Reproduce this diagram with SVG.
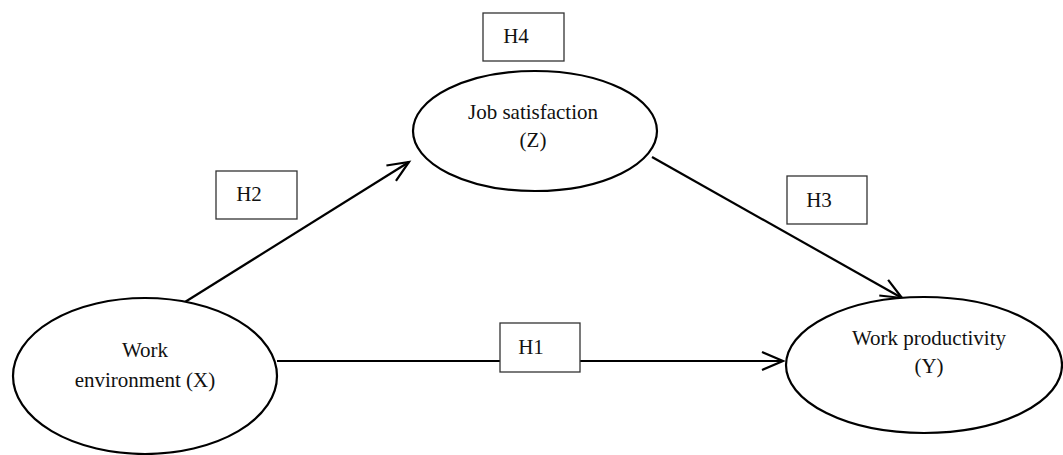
<svg xmlns="http://www.w3.org/2000/svg" width="1063" height="455" viewBox="0 0 1063 455">
<style>
.node ellipse{fill:#fff;stroke:#000;stroke-width:2.2}
.lbl rect{fill:#fff;stroke:#333;stroke-width:1.3}
text{font-family:"Liberation Serif","Times New Roman",serif;font-size:21px;fill:#111;text-anchor:middle}
.edge{stroke:#000;stroke-width:2.2;fill:none;marker-end:url(#arr)}
</style>
<defs>
<marker id="arr" markerUnits="userSpaceOnUse" markerWidth="30" markerHeight="30" viewBox="-25 -12 30 24" refX="0" refY="0" orient="auto">
<path d="M-21,-9 L0,0 L-21,9" fill="none" stroke="#000" stroke-width="2.2"/>
</marker>
</defs>
<rect width="1063" height="455" fill="#fff"/>
<g id="connectors">
<line class="edge" x1="185" y1="302" x2="409" y2="162"/>
<line class="edge" x1="652" y1="157" x2="902" y2="298"/>
<line class="edge" x1="277" y1="361" x2="783" y2="361"/>
</g>
<g id="node-z" class="node">
<ellipse cx="535" cy="131" rx="122" ry="60"/>
<text x="533" y="119">Job satisfaction</text>
<text x="533" y="147">(Z)</text>
</g>
<g id="node-x" class="node">
<ellipse cx="145" cy="376" rx="132" ry="78"/>
<text x="145" y="357">Work</text>
<text x="145" y="387">environment (X)</text>
</g>
<g id="node-y" class="node">
<ellipse cx="924" cy="365" rx="138" ry="68"/>
<text x="929" y="345">Work productivity</text>
<text x="929" y="373">(Y)</text>
</g>
<g id="label-h4" class="lbl">
<rect x="483" y="13" width="81" height="48"/>
<text x="516" y="43">H4</text>
</g>
<g id="label-h2" class="lbl">
<rect x="216" y="171" width="81" height="48"/>
<text x="249" y="201">H2</text>
</g>
<g id="label-h3" class="lbl">
<rect x="787" y="176" width="80" height="48"/>
<text x="819" y="207">H3</text>
</g>
<g id="label-h1" class="lbl">
<rect x="500" y="323" width="80" height="49"/>
<text x="531" y="354">H1</text>
</g>
</svg>
